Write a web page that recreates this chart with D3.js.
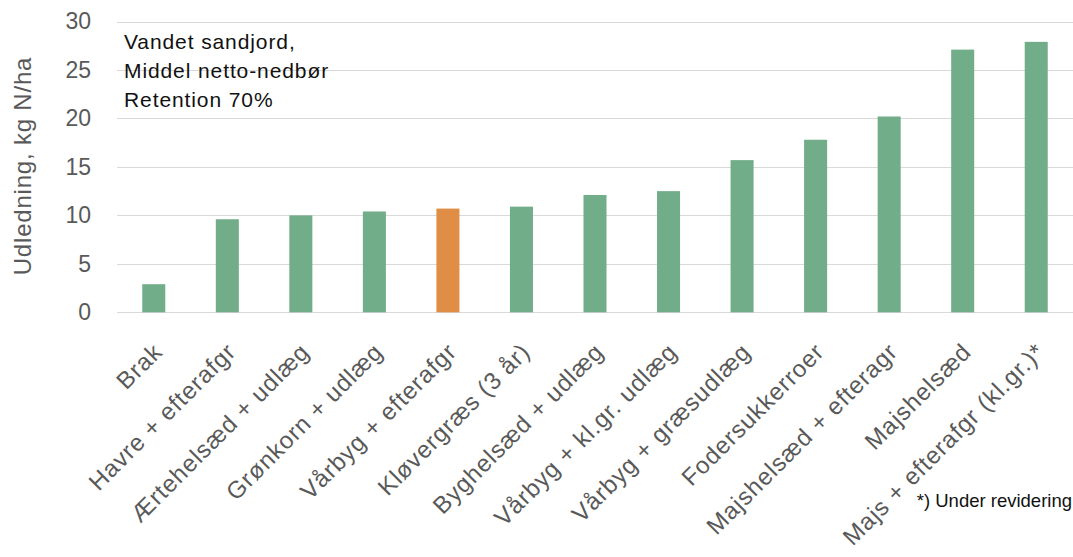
<!DOCTYPE html>
<html><head><meta charset="utf-8">
<script src="https://cdn.jsdelivr.net/npm/d3@7"></script>
<style>body{margin:0;background:#fff}svg{display:block;font-family:"Liberation Sans",Arial,sans-serif}</style>
</head><body><svg id="c" width="1073" height="557"></svg>
<script>
const categories = ["Brak","Havre + efterafgr","Ærtehelsæd + udlæg","Grønkorn + udlæg","Vårbyg + efterafgr","Kløvergræs (3 år)","Byghelsæd + udlæg","Vårbyg + kl.gr. udlæg","Vårbyg + græsudlæg","Fodersukkerroer","Majshelsæd + efteragr","Majshelsæd","Majs + efterafgr (kl.gr.)*"];
const values = [2.9, 9.6, 10.0, 10.4, 10.7, 10.9, 12.1, 12.5, 15.7, 17.8, 20.2, 27.1, 27.9];
const highlighted = ["Vårbyg + efterafgr"];
const yTicks = [0,5,10,15,20,25,30];
const annotation = ["Vandet sandjord,","Middel netto-nedbør","Retention 70%"];
const yTitle = "Udledning, kg N/ha";
const footnote = "*) Under revidering";

const svg = d3.select("#c");
const mLeft = 117, mRight = 1073, mTop = 21.5, mBottom = 312.3;
const x = d3.scaleBand().domain(categories).range([mLeft, mRight]).paddingInner(0.687).paddingOuter(0.3435);
const y = d3.scaleLinear().domain([0,30]).range([mBottom, mTop]);

// gridlines
svg.append("g").selectAll("line").data(yTicks).join("line")
  .attr("x1", mLeft).attr("x2", mRight)
  .attr("y1", d => Math.round(y(d))+0.5).attr("y2", d => Math.round(y(d))+0.5)
  .attr("stroke", "#d9d9d9").attr("stroke-width", 1.2);

// y axis labels
const ya = svg.append("g").attr("transform", `translate(${mLeft-26},0)`)
  .call(d3.axisLeft(y).tickValues(yTicks).tickSize(0).tickPadding(0));
ya.select(".domain").remove();
ya.selectAll("text").attr("font-size", 23).attr("fill", "#595959").attr("font-family", "Liberation Sans, Arial, sans-serif");

// bars
svg.append("g").selectAll("rect").data(categories).join("rect")
  .attr("x", d => x(d)).attr("width", x.bandwidth())
  .attr("y", (d,i) => y(values[i])).attr("height", (d,i) => y(0) - y(values[i]))
  .attr("fill", d => highlighted.includes(d) ? "#E08D46" : "#71AD89");

// x axis labels
const xa = svg.append("g").attr("transform", `translate(0,${mBottom})`)
  .call(d3.axisBottom(x).tickSize(0).tickPadding(0));
xa.select(".domain").remove();
xa.selectAll("text")
  .attr("font-size", 24).attr("fill", "#595959").attr("font-family", "Liberation Sans, Arial, sans-serif")
  .attr("text-anchor", "end").attr("dy", null).attr("y", null)
  .attr("transform", "translate(10,41) rotate(-45)")
  .style("letter-spacing", "0.9px");

// y title
svg.append("text").attr("transform", "translate(31,166) rotate(-90)")
  .attr("text-anchor", "middle").attr("font-size", 24).attr("fill", "#595959")
  .style("letter-spacing", "0.8px").text(yTitle);

// annotation
svg.append("g").selectAll("text").data(annotation).join("text")
  .attr("x", 124).attr("y", (d,i) => 49 + i*29)
  .attr("font-size", 21).attr("fill", "#111").style("letter-spacing", "0.9px").text(d => d);

svg.append("text").attr("x", 1072).attr("y", 507).attr("text-anchor", "end")
  .attr("font-size", 18.5).attr("fill", "#111").text(footnote);
</script></body></html>
